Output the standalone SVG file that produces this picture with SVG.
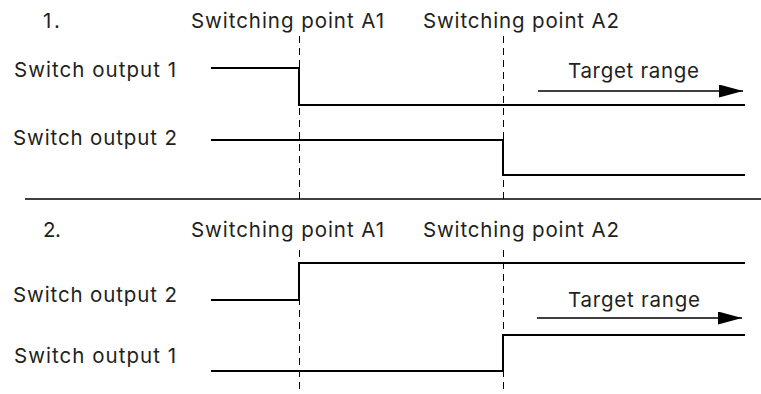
<svg xmlns="http://www.w3.org/2000/svg" width="761" height="394" viewBox="0 0 761 394">
<defs>
<style>
text{font-family:Inter,"Liberation Sans",Arial,sans-serif;font-size:20.5px;fill:#231f20}
.sig{fill:none;stroke:#000;stroke-width:2}
.dash{fill:none;stroke:#000;stroke-width:1;stroke-dasharray:7,5}
.arr{fill:none;stroke:#000;stroke-width:1.3}
.sep{fill:none;stroke:#000;stroke-width:1.6}
</style>
<marker id="ah" viewBox="0 0 24 13" refX="24" refY="6.5" markerWidth="24" markerHeight="13" markerUnits="userSpaceOnUse" orient="auto">
<path d="M0,0 L24,6.5 L0,13 Z" fill="#000"/>
</marker>
</defs>
<rect width="761" height="394" fill="#fff"/>
<g id="connectors">
<line class="dash" x1="299.5" y1="36" x2="299.5" y2="199"/>
<line class="dash" x1="503.5" y1="36" x2="503.5" y2="199"/>
<line class="dash" x1="299.5" y1="250" x2="299.5" y2="394"/>
<line class="dash" x1="503.5" y1="250" x2="503.5" y2="394"/>
<line class="sep" x1="25" y1="199" x2="761" y2="199"/>
<line class="arr" x1="538" y1="91" x2="743" y2="91" marker-end="url(#ah)"/>
<line class="arr" x1="537" y1="318" x2="742" y2="318" marker-end="url(#ah)"/>
</g>
<g id="section1">
<text x="43" y="28" textLength="17" lengthAdjust="spacing">1.</text>
<text x="191" y="28" textLength="193" lengthAdjust="spacing">Switching point A1</text>
<text x="423" y="28" textLength="196" lengthAdjust="spacing">Switching point A2</text>
<text x="14" y="77" textLength="162" lengthAdjust="spacing">Switch output 1</text>
<text x="13" y="145" textLength="164" lengthAdjust="spacing">Switch output 2</text>
<text x="568" y="78" textLength="131" lengthAdjust="spacing">Target range</text>
<polyline id="s1-out1" class="sig" points="211,68 299,68 299,105 745,105"/>
<polyline id="s1-out2" class="sig" points="211,140 503,140 503,175 745,175"/>
</g>
<g id="section2">
<text x="43" y="237" textLength="18" lengthAdjust="spacing">2.</text>
<text x="191" y="237" textLength="193" lengthAdjust="spacing">Switching point A1</text>
<text x="423" y="237" textLength="196" lengthAdjust="spacing">Switching point A2</text>
<text x="13" y="302" textLength="164" lengthAdjust="spacing">Switch output 2</text>
<text x="14" y="363" textLength="162" lengthAdjust="spacing">Switch output 1</text>
<text x="568" y="307" textLength="132" lengthAdjust="spacing">Target range</text>
<polyline id="s2-out2" class="sig" points="211,300 299,300 299,263 745,263"/>
<polyline id="s2-out1" class="sig" points="211,371 503,371 503,335 745,335"/>
</g>
</svg>
